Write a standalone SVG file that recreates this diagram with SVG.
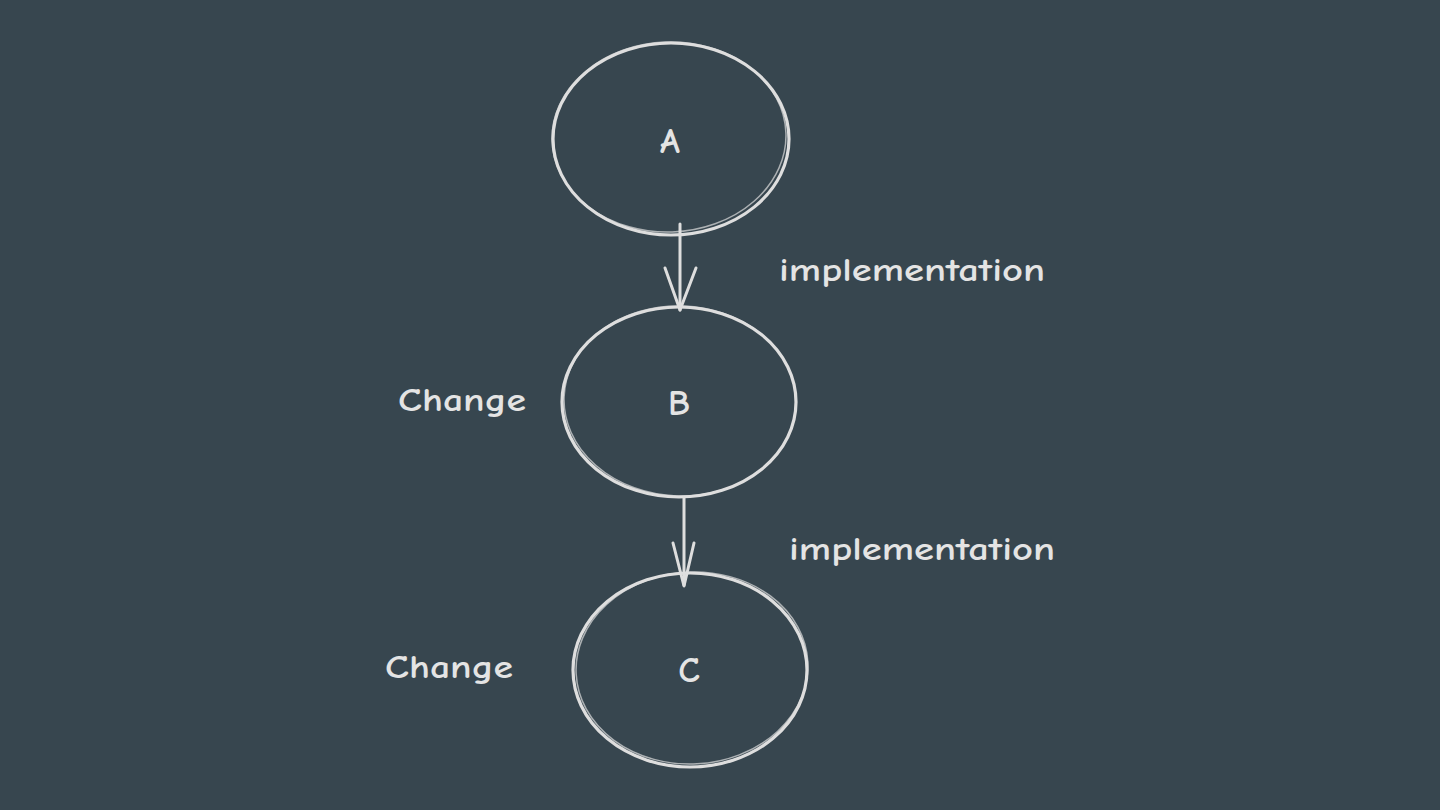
<svg xmlns="http://www.w3.org/2000/svg" width="1440" height="810" viewBox="0 0 1440 810">
<style>
.node{fill:none;stroke:#dedede;stroke-width:3.2;}
.sk{fill:none;stroke:#dedede;stroke-width:1.5;opacity:0.7;}
.lbl{font-family:"Comic Neue","Lato","Noto Sans",sans-serif;fill:#e4e4e4;font-size:32px;font-weight:600;}
.big{font-size:36px;}
.edge{fill:none;stroke:#dedede;stroke-width:3;stroke-linecap:round;stroke-linejoin:round;}
</style>
<rect width="1440" height="810" fill="#37464f"/>
<g id="node-A">
<ellipse class="node" cx="671" cy="139" rx="118" ry="96"/>
<ellipse class="sk" cx="669" cy="137" rx="117" ry="95" transform="rotate(-2 669 137)"/>
<text class="lbl big" x="670" y="153" text-anchor="middle">A</text>
</g>
<g id="node-B">
<ellipse class="node" cx="679" cy="402" rx="117" ry="95"/>
<ellipse class="sk" cx="680" cy="401" rx="116" ry="95" transform="rotate(2 680 401)"/>
<text class="lbl big" x="679" y="415" text-anchor="middle">B</text>
</g>
<g id="node-C">
<ellipse class="node" cx="690" cy="670" rx="117" ry="97"/>
<ellipse class="sk" cx="692" cy="668" rx="116" ry="96" transform="rotate(-3 692 668)"/>
<text class="lbl big" x="689" y="682" text-anchor="middle">C</text>
</g>
<g id="connectors">
<path class="edge" d="M680 224 L680 310"/>
<path class="edge" d="M665 268 L680 310 L696 268"/>
<path class="edge" d="M684 498 L684 585"/>
<path class="edge" d="M673 543 L684 586 L694 543"/>
</g>
<g id="labels">
<text class="lbl" x="779" y="281" textLength="266" lengthAdjust="spacingAndGlyphs">implementation</text>
<text class="lbl" x="789" y="560" textLength="266" lengthAdjust="spacingAndGlyphs">implementation</text>
<text class="lbl" x="398" y="411" textLength="128" lengthAdjust="spacingAndGlyphs">Change</text>
<text class="lbl" x="385" y="678" textLength="128" lengthAdjust="spacingAndGlyphs">Change</text>
</g>
</svg>
